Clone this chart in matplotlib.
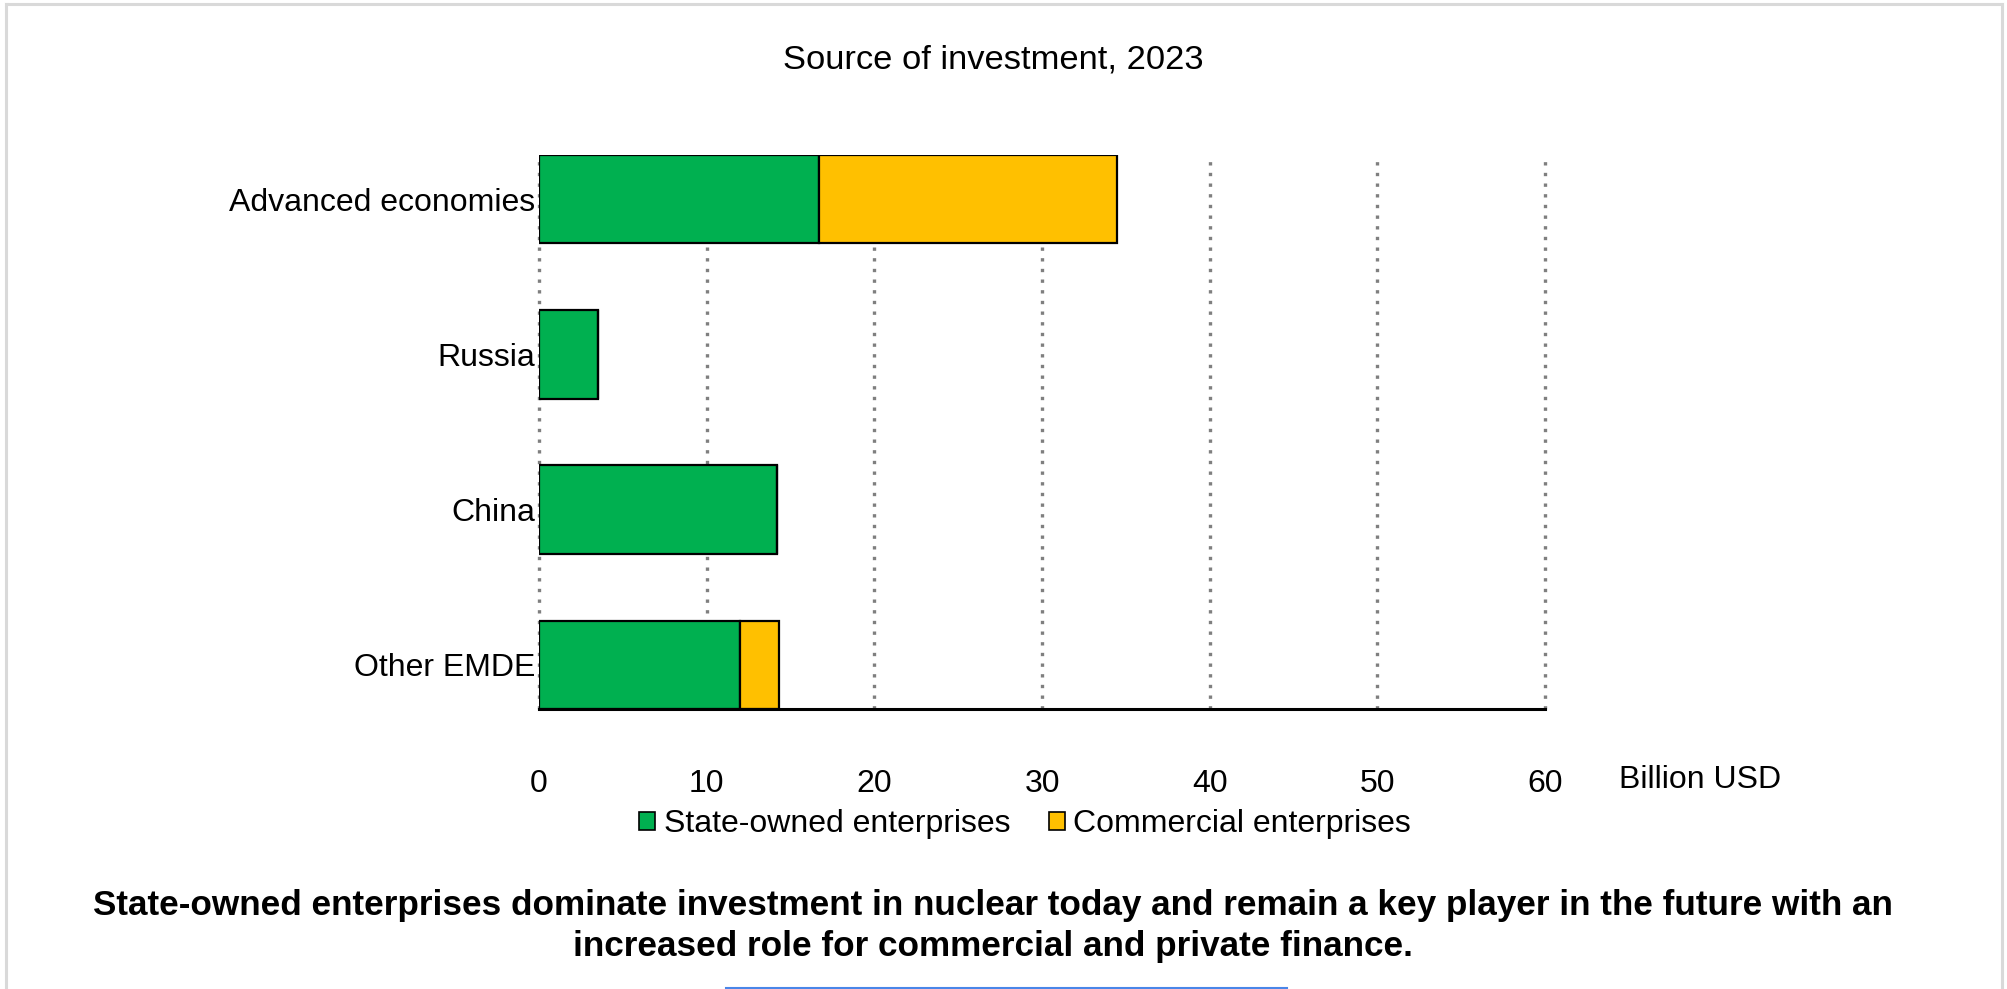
import matplotlib.pyplot as plt
from matplotlib.lines import Line2D
from matplotlib.patches import Patch

plt.rcParams['font.family'] = ['Liberation Sans', 'DejaVu Sans']

# data (billion USD)
regions = ["Advanced economies", "Russia", "China", "Other EMDE"]
state_owned = [16.7, 3.5, 14.2, 12.0]
commercial = [17.8, 0.0, 0.0, 2.3]
xticks = [0, 10, 20, 30, 40, 50, 60]

green = "#00B050"
yellow = "#FFC000"

fig = plt.figure(figsize=(20.07, 9.89), dpi=100)
ax = fig.add_axes([0.2686, 0.2831, 0.5012, 0.5602])

y = list(range(len(regions)))
ax.barh(y, state_owned, height=0.57, color=green, edgecolor="black", linewidth=1.6, zorder=3)
ax.barh(y, commercial, left=state_owned, height=0.57, color=yellow, edgecolor="black", linewidth=1.6, zorder=3)

ax.set_xlim(0, 60)
ax.set_ylim(3.285, -0.285)
ax.set_xticks(xticks)
ax.set_xticklabels([str(t) for t in xticks])
ax.set_yticks(y)
ax.set_yticklabels(regions)
ax.tick_params(axis="x", length=0, pad=43, labelsize=23)
ax.tick_params(axis="y", length=0, pad=3, labelsize=23)

ax.grid(axis="x", color="#7f7f7f", linestyle=(0, (1, 2.2)), linewidth=2.4, zorder=1)
for gl in ax.get_xgridlines():
    gl.set_clip_on(False)
for s in ["top", "right", "left"]:
    ax.spines[s].set_visible(False)
ax.spines["bottom"].set_linewidth(2.2)
ax.spines["bottom"].set_zorder(4)

fig.text(0.4948, 1 - 60 / 989, "Source of investment, 2023", ha="center", va="center", fontsize=24.8)
fig.text(1619 / 2007, 1 - 780 / 989, "Billion USD", ha="left", va="center", fontsize=23)

handles = [Patch(facecolor=green, edgecolor="black", linewidth=1.2, label="State-owned enterprises"),
           Patch(facecolor=yellow, edgecolor="black", linewidth=1.2, label="Commercial enterprises")]
fig.legend(handles=handles, loc="center", bbox_to_anchor=(1025 / 2007, 1 - 824 / 989), ncol=2,
           frameon=False, fontsize=23, handlelength=0.5, handleheight=0.5,
           handletextpad=0.28, columnspacing=1.2, borderpad=0)

fig.text(0.4948, 1 - 926 / 989,
         "State-owned enterprises dominate investment in nuclear today and remain a key player in the future with an\n"
         "increased role for commercial and private finance.",
         ha="center", va="center", fontsize=25.3, fontweight="bold", linespacing=1.3)

# screenshot frame
frame = "#d9d9d9"
fig.add_artist(Line2D([6 / 2007, 6 / 2007], [0, 1 - 4 / 989], color=frame, lw=2.2, transform=fig.transFigure))
fig.add_artist(Line2D([6 / 2007, 2002 / 2007], [1 - 4 / 989, 1 - 4 / 989], color=frame, lw=2.2, transform=fig.transFigure))
fig.add_artist(Line2D([2002 / 2007, 2002 / 2007], [0, 1 - 4 / 989], color=frame, lw=2.2, transform=fig.transFigure))
fig.add_artist(Line2D([726 / 2007, 1287 / 2007], [1.5 / 989, 1.5 / 989], color="#4a86e8", lw=1.5, transform=fig.transFigure))

fig.savefig("out.png", dpi=100)
